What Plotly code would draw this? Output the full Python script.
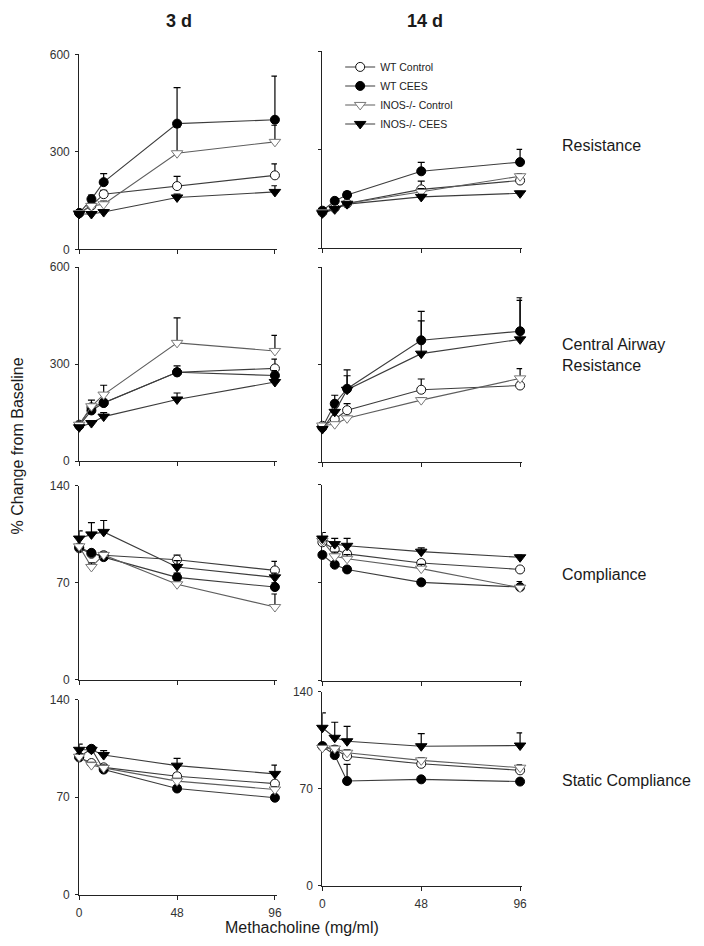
import plotly.graph_objects as go

# page is 704x946; the browser's default 8px body margin is compensated below
PAGE_W, PAGE_H = 704, 946
OFF = 8
W, H = PAGE_W - OFF, PAGE_H - OFF

# ---------------- data ----------------
DOSE = [0, 6, 12, 48, 96]
SERIES = ["WT Control", "WT CEES", "INOS-/- Control", "INOS-/- CEES"]

# Resistance, 3 d
RES3_WT_CTRL = [112, 135, 170, 195, 228]
RES3_WT_CEES = [112, 155, 207, 387, 399]
RES3_KO_CTRL = [112, 134, 139, 296, 331]
RES3_KO_CEES = [109, 109, 115, 160, 177]
RES3_WT_CTRL_ERR = [5, 8, 12, 30, 35]
RES3_WT_CEES_ERR = [8, 12, 26, 111, 134]
RES3_KO_CTRL_ERR = [5, 8, 10, 80, 51]
RES3_KO_CEES_ERR = [4, 5, 6, 10, 19]

# Resistance, 14 d
RES14_WT_CTRL = [110, 123, 137, 180, 207]
RES14_WT_CEES = [115, 145, 163, 235, 263]
RES14_KO_CTRL = [110, 118, 137, 172, 220]
RES14_KO_CEES = [107, 120, 135, 157, 168]
RES14_WT_CTRL_ERR = [4, 5, 6, 25, 15]
RES14_WT_CEES_ERR = [5, 8, 10, 27, 39]
RES14_KO_CTRL_ERR = [4, 5, 6, 10, 8]
RES14_KO_CEES_ERR = [4, 5, 6, 8, 6]

# Central airway resistance, 3 d
CAR3_WT_CTRL = [113, 167, 181, 275, 287]
CAR3_WT_CEES = [110, 157, 180, 275, 265]
CAR3_KO_CTRL = [113, 170, 206, 366, 341]
CAR3_KO_CEES = [105, 118, 138, 191, 245]
CAR3_WT_CTRL_ERR = [5, 8, 10, 10, 29]
CAR3_WT_CEES_ERR = [5, 10, 10, 20, 15]
CAR3_KO_CTRL_ERR = [5, 19, 29, 77, 48]
CAR3_KO_CEES_ERR = [4, 6, 12, 20, 8]

# Central airway resistance, 14 d
CAR14_WT_CTRL = [112, 132, 160, 223, 236]
CAR14_WT_CEES = [107, 180, 226, 375, 403]
CAR14_KO_CTRL = [113, 117, 135, 191, 258]
CAR14_KO_CEES = [102, 155, 223, 334, 378]
CAR14_WT_CTRL_ERR = [4, 6, 20, 33, 10]
CAR14_WT_CEES_ERR = [5, 26, 58, 89, 103]
CAR14_KO_CTRL_ERR = [4, 5, 6, 8, 30]
CAR14_KO_CEES_ERR = [4, 15, 43, 101, 120]

# Compliance, 3 d
CMP3_WT_CTRL = [95, 91, 90, 86.7, 79]
CMP3_WT_CEES = [95.7, 91.7, 88.6, 74, 67]
CMP3_KO_CTRL = [96.4, 81.5, 90.2, 69, 52.6]
CMP3_KO_CEES = [102, 105, 106.8, 81.5, 74]
CMP3_WT_CTRL_ERR = [2, 2, 2, 3.3, 6.5]
CMP3_WT_CEES_ERR = [2, 2, 2, 3, 3]
CMP3_KO_CTRL_ERR = [2, 3, 2, 3, 9.4]
CMP3_KO_CEES_ERR = [5.5, 8.5, 8.2, 4.5, 3]

# Compliance, 14 d
CMP14_WT_CTRL = [99, 94, 90.7, 84.2, 79.6]
CMP14_WT_CEES = [90, 83, 79.6, 70.4, 67]
CMP14_KO_CTRL = [100, 89, 87.2, 80.2, 66.6]
CMP14_KO_CEES = [101.7, 97.7, 96.5, 92.3, 88.3]
CMP14_WT_CTRL_ERR = [2, 2, 2, 2, 2]
CMP14_WT_CEES_ERR = [2, 2, 2, 2, 2]
CMP14_KO_CTRL_ERR = [2, 3, 3, 3, 4.4]
CMP14_KO_CEES_ERR = [4.3, 4.1, 5.3, 2.7, 1.5]

# Static compliance, 3 d
STC3_WT_CTRL = [98.5, 94.5, 91.4, 85, 79.7]
STC3_WT_CEES = [99, 104.7, 89.8, 76.2, 69.6]
STC3_KO_CTRL = [99, 93, 91, 81.5, 75.5]
STC3_KO_CEES = [104, 104, 100.2, 92.6, 86.7]
STC3_WT_CTRL_ERR = [2, 2, 2, 2, 2]
STC3_WT_CEES_ERR = [2, 2, 2, 2, 2]
STC3_KO_CTRL_ERR = [2, 2, 2, 2, 2]
STC3_KO_CEES_ERR = [4, 2, 3.2, 5.2, 6.3]

# Static compliance, 14 d
STC14_WT_CTRL = [100.7, 98.3, 93.5, 88, 83.3]
STC14_WT_CEES = [100.7, 94.3, 75.6, 76.8, 75.2]
STC14_KO_CTRL = [99.5, 99, 96, 90.5, 85.2]
STC14_KO_CEES = [114, 106.8, 104.3, 100.7, 101.2]
STC14_WT_CTRL_ERR = [2, 2, 2, 2, 2]
STC14_WT_CEES_ERR = [2, 2, 12, 2, 2]
STC14_KO_CTRL_ERR = [2, 2, 2, 2, 2]
STC14_KO_CEES_ERR = [10.7, 11.2, 10.7, 9.1, 9.1]

X_TICKS = [0, 48, 96]
RES_TICKS = [0, 300, 600]
CMP_TICKS = [0, 70, 140]
COL_TITLES = ["3 d", "14 d"]
ROW_LABELS = ["Resistance", "Central Airway<br>Resistance", "Compliance", "Static Compliance"]
Y_TITLE = "% Change from Baseline"
X_TITLE = "Methacholine (mg/ml)"

# ---------------- layout helpers (page pixel -> paper fraction) ----------------
def px_x(p):
    return (p - OFF) / W

def px_y(p):
    return 1 - (p - OFF) / H

LEFT = (77, 77 + 198 * 97 / 96)
RIGHT = (323, 323 + 200 * 97 / 96)
panels = [
    ([RES3_WT_CTRL, RES3_WT_CEES, RES3_KO_CTRL, RES3_KO_CEES],
     [RES3_WT_CTRL_ERR, RES3_WT_CEES_ERR, RES3_KO_CTRL_ERR, RES3_KO_CEES_ERR],
     RES_TICKS, LEFT, (48, 246), True, False),
    ([RES14_WT_CTRL, RES14_WT_CEES, RES14_KO_CTRL, RES14_KO_CEES],
     [RES14_WT_CTRL_ERR, RES14_WT_CEES_ERR, RES14_KO_CTRL_ERR, RES14_KO_CEES_ERR],
     RES_TICKS, RIGHT, (45, 245), False, False),
    ([CAR3_WT_CTRL, CAR3_WT_CEES, CAR3_KO_CTRL, CAR3_KO_CEES],
     [CAR3_WT_CTRL_ERR, CAR3_WT_CEES_ERR, CAR3_KO_CTRL_ERR, CAR3_KO_CEES_ERR],
     RES_TICKS, LEFT, (264, 461), True, False),
    ([CAR14_WT_CTRL, CAR14_WT_CEES, CAR14_KO_CTRL, CAR14_KO_CEES],
     [CAR14_WT_CTRL_ERR, CAR14_WT_CEES_ERR, CAR14_KO_CTRL_ERR, CAR14_KO_CEES_ERR],
     RES_TICKS, RIGHT, (264, 462), False, False),
    ([CMP3_WT_CTRL, CMP3_WT_CEES, CMP3_KO_CTRL, CMP3_KO_CEES],
     [CMP3_WT_CTRL_ERR, CMP3_WT_CEES_ERR, CMP3_KO_CTRL_ERR, CMP3_KO_CEES_ERR],
     CMP_TICKS, LEFT, (486, 683), True, False),
    ([CMP14_WT_CTRL, CMP14_WT_CEES, CMP14_KO_CTRL, CMP14_KO_CEES],
     [CMP14_WT_CTRL_ERR, CMP14_WT_CEES_ERR, CMP14_KO_CTRL_ERR, CMP14_KO_CEES_ERR],
     CMP_TICKS, RIGHT, (485, 684), False, False),
    ([STC3_WT_CTRL, STC3_WT_CEES, STC3_KO_CTRL, STC3_KO_CEES],
     [STC3_WT_CTRL_ERR, STC3_WT_CEES_ERR, STC3_KO_CTRL_ERR, STC3_KO_CEES_ERR],
     CMP_TICKS, LEFT, (703, 901), True, True),
    ([STC14_WT_CTRL, STC14_WT_CEES, STC14_KO_CTRL, STC14_KO_CEES],
     [STC14_WT_CTRL_ERR, STC14_WT_CEES_ERR, STC14_KO_CTRL_ERR, STC14_KO_CEES_ERR],
     CMP_TICKS, RIGHT, (695, 892), True, True),
]

STYLES = [
    dict(symbol="circle", size=9, color="white", line=dict(color="#111", width=1), lc="#3c3c3c"),
    dict(symbol="circle", size=9, color="#000", line=dict(color="#000", width=1), lc="#3c3c3c"),
    dict(symbol="triangle-down", size=10, color="white", line=dict(color="#777", width=1), lc="#5e5e5e"),
    dict(symbol="triangle-down", size=10, color="#000", line=dict(color="#000", width=1), lc="#3c3c3c"),
]

FONT = "Liberation Sans, Arial, sans-serif"
fig = go.Figure()
layout = {}

for i, (means, errs, ticks, xspan, yspan, ylab, xlab) in enumerate(panels):
    n = i + 1
    xa = "x" if n == 1 else f"x{n}"
    ya = "y" if n == 1 else f"y{n}"
    for s, name in enumerate(SERIES):
        st = STYLES[s]
        fig.add_trace(go.Scatter(
            x=DOSE, y=means[s], name=name, mode="lines+markers",
            xaxis=xa, yaxis=ya, showlegend=(i == 1), legendgroup=name,
            cliponaxis=False,
            line=dict(color=st["lc"], width=1.1),
            marker=dict(symbol=st["symbol"], size=st["size"], color=st["color"], line=st["line"]),
            error_y=dict(type="data", array=errs[s], arrayminus=[0] * len(DOSE), symmetric=False,
                         color="#000", thickness=1.2, width=3.5),
        ))
    ymax = ticks[-1]
    layout["xaxis" if n == 1 else f"xaxis{n}"] = dict(
        domain=[px_x(xspan[0]), px_x(xspan[1])], range=[0, 97], anchor=ya,
        tickvals=X_TICKS, showticklabels=xlab, ticks="outside", ticklen=4, tickwidth=1,
        tickcolor="#222", showline=True, linecolor="#222", linewidth=1, showgrid=False,
        zeroline=False, layer="below traces", ticklabelstandoff=3,
        tickfont=dict(family=FONT, size=12, color="#333"),
    )
    layout["yaxis" if n == 1 else f"yaxis{n}"] = dict(
        domain=[px_y(yspan[1]), px_y(yspan[0])], range=[0, ymax], anchor=xa,
        tickvals=ticks, showticklabels=ylab, ticks="outside", ticklen=3, tickwidth=1,
        tickcolor="#222", showline=True, linecolor="#222", linewidth=1, showgrid=False,
        zeroline=False, layer="below traces", ticklabelstandoff=3,
        tickfont=dict(family=FONT, size=12, color="#333"),
    )

annotations = [
    dict(text=f"<b>{COL_TITLES[0]}</b>", x=px_x(178), y=px_y(14), font=dict(size=18)),
    dict(text=f"<b>{COL_TITLES[1]}</b>", x=px_x(427), y=px_y(14), font=dict(size=18)),
    dict(text=ROW_LABELS[0], x=px_x(563), y=px_y(140), xanchor="left", font=dict(size=16)),
    dict(text=ROW_LABELS[1], x=px_x(563), y=px_y(353), xanchor="left", align="left", font=dict(size=16)),
    dict(text=ROW_LABELS[2], x=px_x(563), y=px_y(576), xanchor="left", font=dict(size=16)),
    dict(text=ROW_LABELS[3], x=px_x(563), y=px_y(785), xanchor="left", font=dict(size=16)),
    dict(text=Y_TITLE, x=px_x(15), y=px_y(445), textangle=-90, font=dict(size=16)),
    dict(text=X_TITLE, x=px_x(302), y=px_y(934), font=dict(size=16)),
]
for a in annotations:
    a.setdefault("xanchor", "center")
    a.update(xref="paper", yref="paper", showarrow=False, yanchor="middle")
    a["font"] = dict(family=FONT, color="#1a1a1a", **a["font"])

fig.update_layout(
    width=W, height=H, margin=dict(l=0, r=0, t=0, b=0),
    paper_bgcolor="white", plot_bgcolor="white",
    font=dict(family=FONT, color="#222"),
    annotations=annotations,
    showlegend=True,
    legend=dict(x=px_x(341), y=px_y(46), xanchor="left", yanchor="top",
                bgcolor="rgba(0,0,0,0)", font=dict(family=FONT, size=10.5, color="#222"),
                tracegroupgap=0),
    **layout,
)

fig.write_html("out.html")
